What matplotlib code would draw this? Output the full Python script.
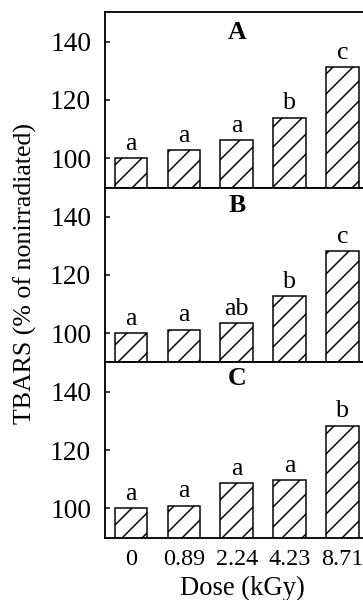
import matplotlib
matplotlib.use("Agg")
import matplotlib.pyplot as plt

# dose levels (kGy) and TBARS values (% of nonirradiated) for panels A, B, C
doses = ["0", "0.89", "2.24", "4.23", "8.71"]
panel_names = ["A", "B", "C"]
tbars_a = [100, 102.9, 106.2, 114.0, 131.3]
tbars_b = [100, 101.2, 103.5, 112.8, 128.3]
tbars_c = [100, 101.0, 108.6, 109.6, 128.3]
letters_a = ["a", "a", "a", "b", "c"]
letters_b = ["a", "a", "ab", "b", "c"]
letters_c = ["a", "a", "a", "a", "b"]

plt.rcParams['font.family'] = ['Liberation Serif', 'DejaVu Serif']
plt.rcParams['hatch.linewidth'] = 0.9

fig = plt.figure(figsize=(3.025, 5.0), dpi=120)

left = 104.5 / 363
width = (369 - 104.5) / 363
# panel edges in pixels from the top of the image
edges = [12.3, 187.7, 362.3, 537.7]
label_y = [0.882, 0.896, 0.905]

series = [tbars_a, tbars_b, tbars_c]
letter_sets = [letters_a, letters_b, letters_c]
x = list(range(len(doses)))

for i in range(3):
    top = 1 - edges[i] / 600
    bottom = 1 - edges[i + 1] / 600
    ax = fig.add_axes([left, bottom, width, top - bottom])
    ax.bar(x, series[i], width=0.615, color="white",
           edgecolor="black", linewidth=0.9, hatch="//")
    for xi, v, s in zip(x, series[i], letter_sets[i]):
        ax.annotate(s, (xi, v), xytext=(0, 2), textcoords="offset points",
                    ha="center", va="bottom", fontsize=15.5)
    ax.text(0.5, label_y[i], panel_names[i], transform=ax.transAxes,
            ha="center", va="center", fontsize=15.5, fontweight="bold")
    ax.set_xlim(-0.5, 4.5)
    ax.set_ylim(90, 150)
    ax.set_yticks([100, 120, 140])
    ax.tick_params(axis="y", direction="in", length=3, width=0.9,
                   labelsize=16.5, pad=8)
    ax.tick_params(axis="x", length=0, labelsize=14.5, pad=7)
    for sp in ax.spines.values():
        sp.set_linewidth(1.1)
    if i < 2:
        ax.set_xticks([])
    else:
        ax.set_xticks(x)
        ax.set_xticklabels(doses)

fig.text(242 / 363, 1 - 588 / 600, "Dose (kGy)", ha="center", va="center",
         fontsize=16)
fig.text(25 / 363, 1 - 274 / 600, "TBARS (% of nonirradiated)", ha="center",
         va="center", rotation=90, fontsize=15.5)

fig.savefig("out.png", dpi=120)
